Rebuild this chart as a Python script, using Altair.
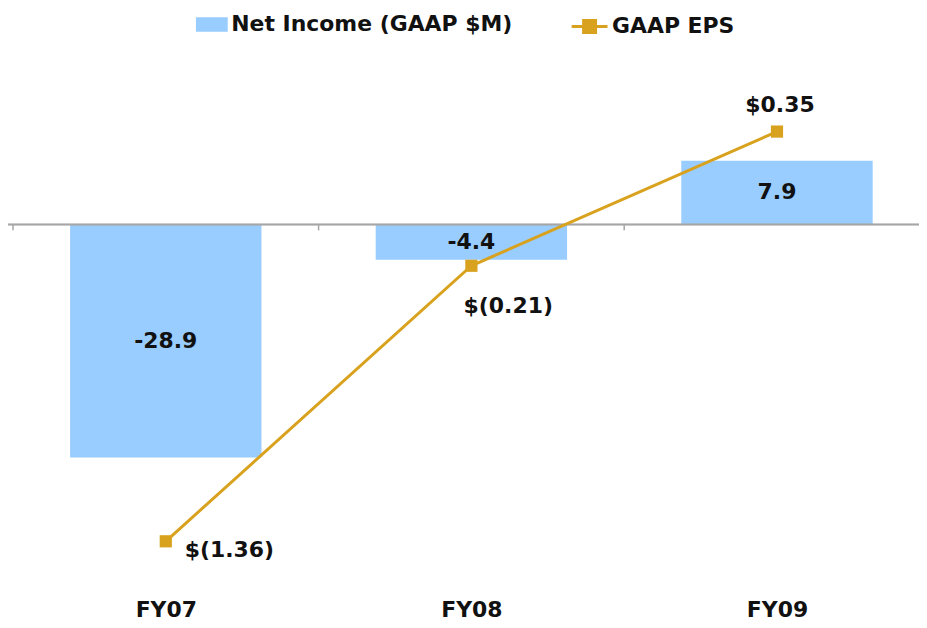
import altair as alt
import pandas as pd

# ---- data ----
years = ["FY07", "FY08", "FY09"]
net_income = [-28.9, -4.4, 7.9]
eps = [-1.36, -0.21, 0.35]
ni_labels = ["-28.9", "-4.4", "7.9"]
eps_labels = ["$(1.36)", "$(0.21)", "$0.35"]
ni_name = "Net Income (GAAP $M)"
eps_name = "GAAP EPS"

df = pd.DataFrame({
    "year": years,
    "ni": net_income,
    "eps": eps,
    "ni_label": ni_labels,
    "eps_label": eps_labels,
})
df["idx"] = list(range(len(years)))
df["ni_series"] = ni_name
df["eps_series"] = eps_name

# ---- style / layout ----
W, H = 914, 577
STEP = 310
BLUE = "#99CCFF"
GOLD = "#D9A21E"
AXIS_GREY = "#A6A6A6"
TXT = "#111111"
FONT = "DejaVu Sans"
FS = 22

X_DOMAIN = [-0.5, -0.5 + W / STEP]
NI_DOMAIN = [-44.6, 26.7]
EPS_DOMAIN = [-1.5387, 0.8615]

label_expr = "[" + ",".join("'%s'" % y for y in years) + "][datum.value]"
xaxis = alt.Axis(values=list(range(len(years))), labelExpr=label_expr, domain=False,
                 ticks=False, tickSize=0, grid=False, labelFont=FONT, labelFontSize=FS,
                 labelFontWeight="bold", labelColor=TXT, labelPadding=25,
                 labelBaseline="middle", title=None)
xscale = alt.Scale(domain=X_DOMAIN, nice=False, zero=False)
ni_scale = alt.Scale(domain=NI_DOMAIN, nice=False, zero=False)
eps_scale = alt.Scale(domain=EPS_DOMAIN, nice=False, zero=False)


def X(field="idx"):
    return alt.X(f"{field}:Q", scale=xscale, axis=xaxis)


base = alt.Chart(df)

# ---- net income (bars) ----
bars = base.mark_bar(width=192).encode(
    x=X(),
    y=alt.Y("ni:Q", scale=ni_scale, axis=None),
    y2=alt.Y2Datum(0),
    fill=alt.Fill("ni_series:N", scale=alt.Scale(domain=[ni_name], range=[BLUE]),
                  legend=alt.Legend(title=None, orient="none", legendX=190, legendY=1,
                                    symbolType="M-1.1,-0.5H1.1V0.5H-1.1Z", symbolSize=841,
                                    symbolStrokeWidth=0, labelFont=FONT, labelFontSize=FS,
                                    labelFontWeight="bold", labelColor=TXT, labelOffset=5,
                                    labelLimit=600, padding=0)),
)

bar_text = base.mark_text(font=FONT, fontSize=FS, fontWeight="bold", color=TXT,
                          baseline="middle", align="center").encode(
    x=X(),
    y=alt.Y("mid:Q", scale=ni_scale, axis=None),
    text="ni_label:N",
).transform_calculate(mid="datum.ni / 2")

zero_line = base.mark_rule(color=AXIS_GREY, strokeWidth=1.5).encode(
    x=alt.value(0), x2=alt.value(W),
    y=alt.YDatum(0, scale=ni_scale, axis=None),
)

ticks = base.mark_rule(color=AXIS_GREY, strokeWidth=1.5, y2Offset=6).encode(
    x=X("edge"),
    y=alt.YDatum(0, scale=ni_scale, axis=None),
    y2=alt.Y2Datum(0),
).transform_calculate(edge="datum.idx - 0.5")

ni_layer = alt.layer(bars, zero_line, ticks, bar_text)

# ---- EPS (line) ----
line = base.mark_line(strokeWidth=3).encode(
    x=X(),
    y=alt.Y("eps:Q", scale=eps_scale, axis=None),
    stroke=alt.Stroke("eps_series:N", scale=alt.Scale(domain=[eps_name], range=[GOLD]),
                      legend=alt.Legend(title=None, orient="none", legendX=567, legendY=1,
                                        symbolType="M-1.2,0H1.2M-0.4,-0.4H0.4V0.4H-0.4Z",
                                        symbolSize=900, symbolStrokeWidth=3,
                                        symbolFillColor=GOLD, symbolStrokeColor=GOLD,
                                        labelFont=FONT, labelFontSize=FS,
                                        labelFontWeight="bold", labelColor=TXT,
                                        labelOffset=6, labelLimit=600, padding=0)),
)

points = base.mark_point(shape="square", filled=True, size=150, color=GOLD, opacity=1).encode(
    x=X(),
    y=alt.Y("eps:Q", scale=eps_scale, axis=None),
)


def eps_text(i, align, dx, dy):
    return base.mark_text(font=FONT, fontSize=FS, fontWeight="bold", color=TXT,
                          baseline="middle", align=align, dx=dx, dy=dy).encode(
        x=X(),
        y=alt.Y("eps:Q", scale=eps_scale, axis=None),
        text="eps_label:N",
    ).transform_filter(alt.datum.idx == i)


eps_layer = alt.layer(
    line, points,
    eps_text(0, "left", 19, 9),
    eps_text(1, "center", 37, 40),
    eps_text(2, "center", 3, -27),
)

chart = alt.layer(ni_layer, eps_layer).resolve_scale(y="independent").properties(
    width=W,
    height=H,
    padding={"left": 0, "top": 0, "right": 0, "bottom": 43},
    autosize=alt.AutoSizeParams(type="none"),
    background="white",
).configure_view(stroke=None)

chart.save("out.html", embed_options={"renderer": "svg", "actions": False})
